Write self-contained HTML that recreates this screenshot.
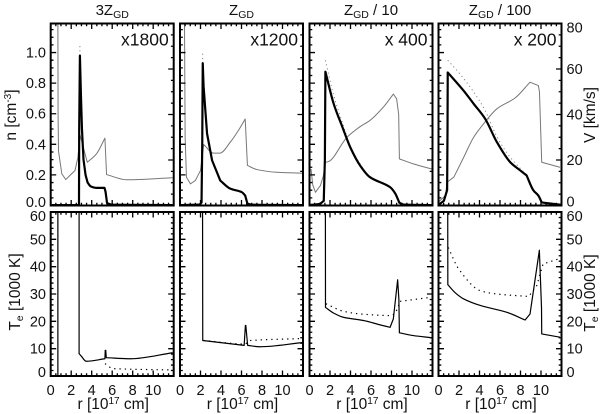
<!DOCTYPE html>
<html>
<head>
<meta charset="utf-8">
<title>Shell profiles</title>
<style>
html,body{margin:0;padding:0;background:#fff;width:600px;height:414px;overflow:hidden}
svg{display:block}
text{font-family:"Liberation Sans",sans-serif;fill:#111;font-size:14px}
</style>
</head>
<body>
<svg id="chart" width="600" height="414" viewBox="0 0 600 414" xmlns="http://www.w3.org/2000/svg"></svg>
<script>
const panelTitles=["3Z|GD|","Z|GD|","Z|GD| / 10","Z|GD| / 100"];
const scaleLabels=["x1800","x1200","x 400","x 200"];
const rTicks=[0,2,4,6,8,10];
const nTicks=[0,0.2,0.4,0.6,0.8,1.0];
const vTicks=[0,20,40,60,80];
const tTicks=[0,10,20,30,40,50,60];

const vR=[
[0.7,0.72,0.76,1.08,1.47,2.37,2.65,2.86,3.57,4.48,5.29,5.45,7.4,11.9],
[0.44,0.5,0.63,1.02,1.5,2,2.31,3.28,3.9,4.9,5.7,6.36,6.58,7.5,9.4,11.9],
[0.15,0.32,0.58,1.07,1.35,1.55,1.85,3.66,4.95,5.9,7.2,8.18,8.5,8.7,8.77,10.13,11.9],
[0,0.68,0.84,1.5,2.46,3.43,4.4,5.7,7.48,8.93,9.74,9.85,10.07,11.85]];
const vVal=[
[82,40,24,14,11.4,15.4,21,31,19,22.8,29.6,13.6,11.3,12.2],
[80,30,12.4,9.5,11,15.4,26.8,23,23,27.8,33,38,17.6,15.8,14.6,14.2],
[16,9,5.8,8.8,13,19,19.3,30,34.7,37.4,43.2,49,46.9,40,20.5,18.3,16.1],
[1.5,4.4,10.2,12.5,21.2,30,35.9,42.5,47.3,54.2,52.7,50,19,16.8]];

const nR=[
[0,2.76,2.78,2.85,2.95,3.05,3.2,3.4,3.6,3.9,4.5,5.25,5.35,5.5,6,11.9],
[0,1.9,2.1,2.17,2.22,2.3,2.64,3.13,3.93,4.9,6.04,6.36,6.58,7,11.9],
[0,0.97,1.39,1.5,1.55,2.36,3.17,3.98,4.95,5.9,7.86,8.35,8.77,9.2,11.9],
[0,0.52,0.84,0.88,0.9,2.46,3.43,4.56,5.7,7,7.96,8.6,9.25,9.74,10.07,11.9]];
const nVal=[
[0.003,0.003,0.5,0.98,0.72,0.5,0.3,0.2,0.15,0.125,0.115,0.115,0.09,0.015,0.005,0.003],
[0.003,0.006,0.02,0.4,0.93,0.78,0.47,0.295,0.163,0.11,0.087,0.065,0.012,0.005,0.003],
[0.003,0.01,0.03,0.3,0.875,0.665,0.52,0.38,0.26,0.185,0.12,0.08,0.018,0.006,0.003],
[0.004,0.03,0.1,0.5,0.87,0.75,0.665,0.566,0.414,0.283,0.23,0.196,0.1,0.065,0.02,0.005]];

const nDotR=[
[2.85,2.85],
[2.2,2.22],
[1.55,2.36,3.17,3.98,4.95,5.9,7.86],
[0.9,2.46,4.4,5.7,7,8.6]];
const nDotVal=[
[0.98,1.06],
[0.93,1.01],
[0.95,0.72,0.55,0.39,0.27,0.19,0.125],
[0.95,0.83,0.64,0.45,0.315,0.2]];

const tR=[
[2.77,2.77,3.0,3.45,5.29,5.32,5.37,5.42,7.8,11.9],
[2.2,2.22,6.26,6.38,6.42,6.6,7.8,11.9],
[1.55,1.56,2.36,3.3,5.27,6.9,7.86,8.18,8.6,8.72,8.77,10.13,11.9],
[0.9,0.91,1.65,2.46,4.08,6.67,8.45,8.93,9.84,10.05,10.07,11.85]];
const tVal=[
[62,8.2,7.2,5.4,6.3,9.4,9.4,6.7,6.3,8.5],
[62,13,11.2,18.5,18.5,11.2,10.7,12.2],
[62,25.1,23,21.5,20.3,18.7,17.8,20.9,35.2,28,15.8,14.8,14],
[62,33.4,30.4,28.2,25.8,23.3,20.5,22.7,46,25,15.4,14.2]];

const tDotR=[
[5.3,6.1,11.9],
[2.3,6.3,6.9,11.9],
[1.6,3.3,4.95,8,8.6,8.8,11.9],
[0.95,1.98,4.08,5.7,8.8,9.58,10.2,11.7]];
const tDotVal=[
[4.5,2.7,2.2],
[13,11.7,13,13.7],
[26.4,23.7,22.7,22.1,24.5,27.3,28.8],
[47,39.1,31.2,30,29.1,33,41,42.8]];

const SVGNS="http://www.w3.org/2000/svg";
const chart=document.getElementById("chart");
const panelLefts=[50.7,180,309.5,438.5];
const panelWidth=123;
const topY0=205.5, topY1=23.5, botY0=376, botY1=212;
function xScale(p,r){return panelLefts[p]+r/12*panelWidth;}
function nScale(n){return topY0-n/1.19*(topY0-topY1);}
function vScale(v){return topY0-v/80*(topY0-topY1);}
function tScale(t){return botY0-t/60*(botY0-botY1);}

function node(tag,parent,attrs){
  const el=document.createElementNS(SVGNS,tag);
  for(const k in attrs){el.setAttribute(k,attrs[k]);}
  parent.appendChild(el);
  return el;
}
function addText(parent,name,x,y,str,size,anchor,rot){
  const attrs={x:x,y:y,"font-size":size,"text-anchor":anchor||"middle"};
  if(rot){attrs.transform="rotate(-90 "+x+" "+y+")";}
  const t=node("text",parent,attrs);
  
  
  t.style.fontSize=size+"px";
  return t;
}
function span(t,str,size,dy){
  const s=document.createElementNS(SVGNS,"tspan");
  s.textContent=str;
  s.style.fontSize=size+"px";
  if(dy){s.setAttribute("dy",dy);}
  t.appendChild(s);
}
function monotonePath(px,py){
  const n=px.length, h=[], m=[], tIn=[], tOut=[];
  for(let i=0;i<n-1;i++){
    h[i]=px[i+1]-px[i];
    m[i]=h[i]>0.3?(py[i+1]-py[i])/h[i]:0;
  }
  for(let i=0;i<n;i++){
    if(i===0){tIn[i]=tOut[i]=m[0];}
    else if(i===n-1){tIn[i]=tOut[i]=m[n-2];}
    else if(h[i-1]<=0.3||h[i]<=0.3||Math.abs(m[i-1]-m[i])>1.2){tIn[i]=m[i-1];tOut[i]=m[i];}
    else if(m[i-1]*m[i]<=0){tIn[i]=tOut[i]=0;}
    else{tIn[i]=tOut[i]=2*m[i-1]*m[i]/(m[i-1]+m[i]);}
  }
  let d="M"+px[0].toFixed(2)+" "+py[0].toFixed(2);
  for(let i=0;i<n-1;i++){
    if(h[i]<=0.3){
      d+=" L"+px[i+1].toFixed(2)+" "+py[i+1].toFixed(2);
    }else{
      const c=h[i]/3;
      d+=" C"+(px[i]+c).toFixed(2)+" "+(py[i]+tOut[i]*c).toFixed(2)+" "+(px[i+1]-c).toFixed(2)+" "+(py[i+1]-tIn[i+1]*c).toFixed(2)+" "+px[i+1].toFixed(2)+" "+py[i+1].toFixed(2);
    }
  }
  return d;
}
function drawSeries(parent,name,xs,ys,xf,yf,style){
  const d=monotonePath(xs.map(xf),ys.map(yf));
  const attrs=Object.assign({d:d,fill:"none","stroke-linejoin":"round"},style);
  const path=node("path",parent,attrs);
  
  
}
function drawTicks(parent,name,p,y0,y1,majorYs,minorYs,rightMajorYs,rightMinorYs){
  const L=panelLefts[p],R=L+panelWidth;
  let d="";
  for(let r=0;r<=12.001;r+=0.5){
    const major=Math.abs(r/2-Math.round(r/2))<0.001;
    const len=major?5.5:2.8;
    const x=xScale(p,r).toFixed(2);
    d+="M"+x+" "+y0+"V"+(y0-len)+"M"+x+" "+y1+"V"+(y1+len);
  }
  majorYs.forEach(function(y){d+="M"+L+" "+y+"h5.5";});
  minorYs.forEach(function(y){d+="M"+L+" "+y+"h2.8";});
  rightMajorYs.forEach(function(y){d+="M"+R+" "+y+"h-5.5";});
  rightMinorYs.forEach(function(y){d+="M"+R+" "+y+"h-2.8";});
  const path=node("path",parent,{d:d,fill:"none",stroke:"#000","stroke-width":1.3});
  
  
}
function minorList(step,max,scale){
  const out=[];
  for(let v=0;v<=max+1e-6;v+=step){out.push(scale(v));}
  return out;
}

const series=[0,1,2,3];
series.forEach(function(p){
  const topG=node("g",chart,{});
  
  
  const botG=node("g",chart,{});
  
  
  const xf=function(r){return xScale(p,r);};

  const clipId="clip"+p;
  const defs=node("defs",chart,{});
  const cp=node("clipPath",defs,{id:clipId});
  node("rect",cp,{x:panelLefts[p],y:topY1,width:panelWidth,height:topY0-topY1});
  const clipId2="clipb"+p;
  const cp2=node("clipPath",defs,{id:clipId2});
  node("rect",cp2,{x:panelLefts[p],y:botY1,width:panelWidth,height:botY0-botY1});

  const topData=node("g",topG,{"clip-path":"url(#"+clipId+")"});
  
  
  const botData=node("g",botG,{"clip-path":"url(#"+clipId2+")"});
  
  

  drawSeries(topData,"velocity-line",vR[p],vVal[p],xf,vScale,{stroke:"#777","stroke-width":1});
  drawSeries(topData,"density-dotted-line",nDotR[p],nDotVal[p],xf,nScale,{stroke:"#888","stroke-width":1,"stroke-dasharray":"1.2 3"});
  drawSeries(topData,"density-line",nR[p],nVal[p],xf,nScale,{stroke:"#000","stroke-width":2.2});
  drawSeries(botData,"temperature-line",tR[p],tVal[p],xf,tScale,{stroke:"#000","stroke-width":1.2});
  drawSeries(botData,"temperature-dotted-line",tDotR[p],tDotVal[p],xf,tScale,{stroke:"#000","stroke-width":1.2,"stroke-dasharray":"1.3 4"});
  if(p===0){
    const wall=node("line",botData,{x1:xf(0.7),x2:xf(0.7),y1:botY1,y2:botY0,stroke:"#000","stroke-width":1.2});
    
    
  }

  drawTicks(topG,"top-axis-ticks",p,topY0,topY1,
    nTicks.map(nScale),minorList(0.05,1.19,nScale),
    vTicks.map(vScale),minorList(5,80,vScale));
  drawTicks(botG,"bottom-axis-ticks",p,botY0,botY1,
    tTicks.map(tScale),minorList(2,60,tScale),
    tTicks.map(tScale),minorList(2,60,tScale));

  const f1=node("rect",topG,{x:panelLefts[p],y:topY1,width:panelWidth,height:topY0-topY1,fill:"none",stroke:"#000","stroke-width":2});
  
  
  const f2=node("rect",botG,{x:panelLefts[p],y:botY1,width:panelWidth,height:botY0-botY1,fill:"none",stroke:"#000","stroke-width":2});
  
  

  const parts=panelTitles[p].split("|");
  const title=addText(topG,"panel-title",panelLefts[p]+panelWidth/2,15,"",15,"middle");
  span(title,parts[0],15);
  span(title,parts[1],10.5,3);
  const rest=document.createElementNS(SVGNS,"tspan");
  rest.textContent=parts[2];
  rest.style.fontSize="15px";
  rest.setAttribute("dy",-3);
  title.appendChild(rest);

  const scaleText=addText(topG,"scale-factor-label",panelLefts[p]+panelWidth-5,45.5,"",17.5,"end");
  scaleText.textContent=scaleLabels[p];

  rTicks.forEach(function(r){
    const t=addText(botG,"x-tick-label",xf(r),395,"",14.5,"middle");
    t.textContent=String(r);
  });
  const xl=addText(botG,"x-axis-title",panelLefts[p]+panelWidth/2+1,409,"",15.5,"middle");
  span(xl,"r [10",15.5);
  span(xl,"17",10,-5);
  const xr=document.createElementNS(SVGNS,"tspan");
  xr.textContent=" cm]";
  xr.style.fontSize="15.5px";
  xr.setAttribute("dy",5);
  xl.appendChild(xr);
});

function edgeShift(i,last){return i===0?-4:(i===last?4:0);}
nTicks.forEach(function(v,i){
  const t=addText(chart,"density-tick-label",46,nScale(v)+5+(i===0?-3.5:0),"",14.5,"end");
  t.textContent=v.toFixed(1);
});
vTicks.forEach(function(v,i){
  const t=addText(chart,"velocity-tick-label",566.5,vScale(v)+5+edgeShift(i,vTicks.length-1),"",14.5,"start");
  t.textContent=String(v);
});
tTicks.forEach(function(v,i){
  const t=addText(chart,"temperature-tick-label-left",46,tScale(v)+5+edgeShift(i,tTicks.length-1),"",14.5,"end");
  t.textContent=String(v);
  const t2=addText(chart,"temperature-tick-label-right",566.5,tScale(v)+5+edgeShift(i,tTicks.length-1),"",14.5,"start");
  t2.textContent=String(v);
});

const nTitle=addText(chart,"density-axis-title",16,115,"",15.5,"middle",true);
span(nTitle,"n [cm",15.5);
span(nTitle,"-3",10,-5);
const nEnd=document.createElementNS(SVGNS,"tspan");
nEnd.textContent="]";
nEnd.style.fontSize="15.5px";
nEnd.setAttribute("dy",5);
nTitle.appendChild(nEnd);

const vTitle=addText(chart,"velocity-axis-title",595,115,"",15.5,"middle",true);
vTitle.textContent="V [km/s]";

function tempTitle(name,x,y){
  const t=addText(chart,name,x,y,"",15.5,"middle",true);
  span(t,"T",15.5);
  span(t,"e",10.5,3);
  const s=document.createElementNS(SVGNS,"tspan");
  s.textContent=" [1000 K]";
  s.style.fontSize="15.5px";
  s.setAttribute("dy",-3);
  t.appendChild(s);
}
tempTitle("temperature-axis-title-left",20,292);
tempTitle("temperature-axis-title-right",595,293);
</script>
</body>
</html>
